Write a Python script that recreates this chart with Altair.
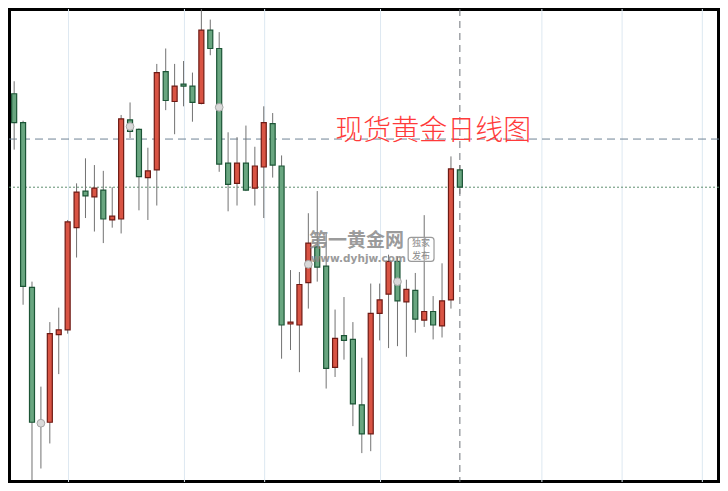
import altair as alt
import pandas as pd

# ---- data ----
opens  = [1406, 1391, 1305.5, 1235, 1235.5, 1281, 1283.5, 1336.5, 1355.5, 1352.5,
          1356, 1340.5, 1341, 1392.5, 1387.5, 1362.5, 1366.5, 1417.5, 1402, 1411,
          1410, 1401, 1439, 1429.5, 1370, 1359.5, 1370, 1357, 1368, 1390.5,
          1368.5, 1286.5, 1286, 1308, 1326.5, 1316.5, 1264, 1280.5, 1278.5, 1244.5,
          1229.5, 1292, 1302, 1319, 1298, 1304, 1288.5, 1293, 1285.5, 1299,
          1366.5]
highs  = [1412.5, 1392, 1308.5, 1254, 1287.5, 1295, 1340.5, 1359.5, 1372.5, 1369,
          1366, 1357.5, 1395, 1401.5, 1388, 1378, 1421.5, 1429.5, 1421.5, 1423,
          1417, 1450, 1444.5, 1438, 1386, 1383.5, 1389.5, 1378.5, 1399.5, 1396,
          1374, 1314.5, 1313.5, 1344, 1355.5, 1333.5, 1294, 1300.5, 1287.5, 1269,
          1307.5, 1307.5, 1322.5, 1321.5, 1309.5, 1313, 1343, 1301, 1318, 1373.5,
          1369]
lows   = [1377, 1296.5, 1205.5, 1211.5, 1224.5, 1260.5, 1281.5, 1321, 1341.5, 1334.5,
          1328.5, 1336.5, 1333.5, 1383, 1345.5, 1340.5, 1348, 1397.5, 1385, 1399.5,
          1391.5, 1400.5, 1426, 1365.5, 1345, 1348, 1355.5, 1348, 1341.5, 1362.5,
          1268.5, 1273, 1261.5, 1294.5, 1308.5, 1253, 1259, 1268, 1233.5, 1219.5,
          1220.5, 1278, 1274, 1275, 1269.5, 1282, 1285, 1278.5, 1279.5, 1294.5,
          1354]
closes = [1391, 1306, 1235.5, 1235, 1281.5, 1283.5, 1339.5, 1355, 1353, 1357,
          1341, 1342.5, 1393, 1386.5, 1363, 1366, 1417, 1402.5, 1410, 1410,
          1401.5, 1439, 1429.5, 1369.5, 1359, 1370, 1356, 1368.5, 1391, 1369,
          1286, 1287.5, 1307, 1328.5, 1316, 1263.5, 1279, 1278, 1245, 1229.5,
          1292, 1299, 1319, 1298.5, 1304.5, 1289, 1293, 1286, 1298.5, 1367,
          1357.5]
marker_idx  = [3, 13, 23, 33, 43]
marker_vals = [1235, 1389, 1399, 1317.5, 1308.5]
grid_x      = [6.1, 19.1, 28.1, 41.1, 59.2, 68.2, 77.2]
cursor_x    = [50]
dash_level  = [1382.5]
dot_level   = [1357.5]
title_text  = "现货黄金日线图"
wm_main     = "第一黄金网"
wm_url      = "www.dyhjw.com"
wm_badge    = ["独家", "发布"]

UP_FILL, UP_STROKE = "#d95444", "#6e1a14"
DN_FILL, DN_STROKE = "#69a680", "#1c5536"

df = pd.DataFrame({"i": list(range(len(opens))), "open": opens, "high": highs,
                   "low": lows, "close": closes})
df["dir"] = ["up" if c > o else "down" for o, c in zip(opens, closes)]

xs = alt.Scale(domain=[-0.58, 79.07], nice=False, zero=False, padding=0)
ys = alt.Scale(domain=[1204.5, 1450], nice=False, zero=False, padding=0)

def X(f):
    return alt.X(f, type="quantitative", scale=xs, axis=None)

def Y(f):
    return alt.Y(f, type="quantitative", scale=ys, axis=None)

grid = alt.Chart(pd.DataFrame({"g": grid_x})).mark_rule(
    color="#dde8f1", strokeWidth=1).encode(x=X("g"))

cursor = alt.Chart(pd.DataFrame({"c": cursor_x})).mark_rule(
    color="#6f747b", strokeWidth=1, strokeDash=[7, 5]).encode(x=X("c"))

hdash = alt.Chart(pd.DataFrame({"v": dash_level})).mark_rule(
    color="#6f8495", strokeWidth=1, strokeDash=[8, 5]).encode(y=Y("v"))

hdot = alt.Chart(pd.DataFrame({"v": dot_level})).mark_rule(
    color="#5f8f70", strokeWidth=1, strokeDash=[2, 2]).encode(y=Y("v"))

base = alt.Chart(df)
wicks = base.mark_rule(color="#727272", strokeWidth=1, clip=True).encode(
    x=X("i"), y=Y("low"), y2="high")

dir_fill = alt.Scale(domain=["up", "down"], range=[UP_FILL, DN_FILL])
dir_stroke = alt.Scale(domain=["up", "down"], range=[UP_STROKE, DN_STROKE])
bodies = base.mark_bar(width=5, strokeWidth=1.2, clip=True).encode(
    x=X("i"), y=Y("open"), y2="close",
    fill=alt.Fill("dir:N", scale=dir_fill, legend=None),
    stroke=alt.Stroke("dir:N", scale=dir_stroke, legend=None))

markers = alt.Chart(pd.DataFrame({"m": marker_idx, "v": marker_vals})).mark_point(
    filled=True, size=60, fill="#d9d9d9", stroke="#a6a6a6", strokeWidth=1,
    opacity=1).encode(x=X("m"), y=Y("v"))

title = alt.Chart(pd.DataFrame({"x": [47.0], "y": [1386.3], "t": [title_text]})).mark_text(
    font="Noto Sans CJK SC", fontSize=28, fontWeight=300, color="#ff3a3a", align="center",
    baseline="middle").encode(x=X("x"), y=Y("y"), text="t:N")

wm1 = alt.Chart(pd.DataFrame({"x": [38.4], "y": [1329.5], "t": [wm_main]})).mark_text(
    font="Noto Sans CJK SC", fontSize=19, fontWeight="bold", color="#8a8a8a",
    opacity=0.85, align="center", baseline="middle").encode(x=X("x"), y=Y("y"), text="t:N")

wm2 = alt.Chart(pd.DataFrame({"x": [38.6], "y": [1320.0], "t": [wm_url]})).mark_text(
    font="DejaVu Sans", fontSize=10.5, fontWeight="bold", color="#8a8a8a",
    opacity=0.85, align="center", baseline="middle").encode(x=X("x"), y=Y("y"), text="t:N")

badge_box = alt.Chart(pd.DataFrame({"x1": [44.2], "x2": [47.1], "y1": [1319], "y2": [1331.5]})).mark_rect(
    fill="white", fillOpacity=0.3, stroke="#9a9a9a", strokeWidth=1.2, cornerRadius=3).encode(
    x=X("x1"), x2="x2", y=Y("y1"), y2="y2")

badge_txt = alt.Chart(pd.DataFrame({"x": [45.65, 45.65], "y": [1328.3, 1322.0], "t": wm_badge})).mark_text(
    font="Noto Sans CJK SC", fontSize=9, color="#8a8a8a", align="center",
    baseline="middle").encode(x=X("x"), y=Y("y"), text="t:N")

chart = alt.layer(
    grid, cursor, hdash, hdot, wicks, bodies, markers,
    wm1, wm2, badge_box, badge_txt, title
).properties(
    width=712, height=475,
    autosize=alt.AutoSizeParams(type="fit", contains="padding"),
    padding=0, background="white"
).configure_view(stroke="black", strokeWidth=4)

chart.save("out.html", embed_options={"renderer": "svg", "actions": False})
